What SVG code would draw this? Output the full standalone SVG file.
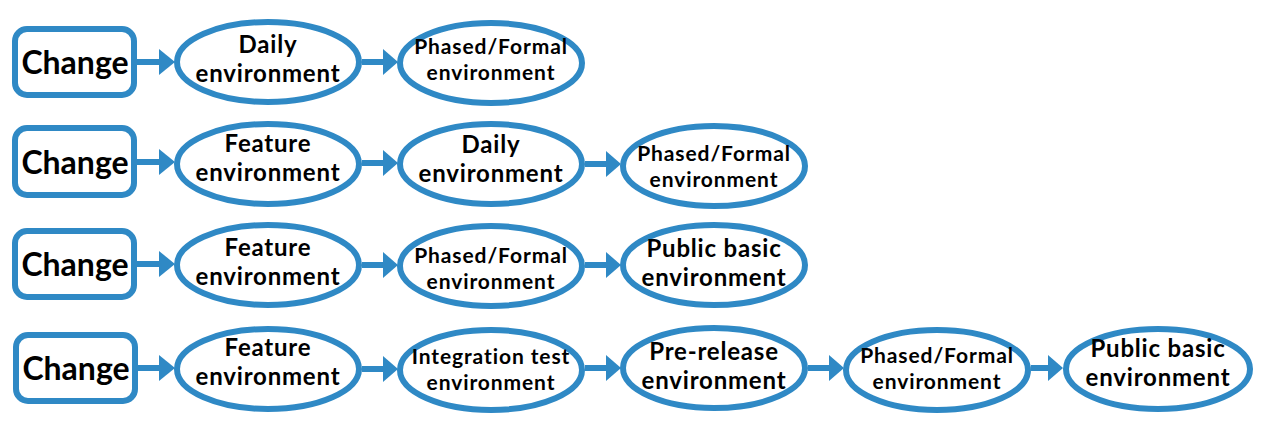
<svg xmlns="http://www.w3.org/2000/svg" width="1268" height="428" viewBox="0 0 1268 428">
  <defs>
    <style>
      .box { fill: #ffffff; stroke: #2f89c5; stroke-width: 6; }
      .env { fill: #ffffff; stroke: #2f89c5; stroke-width: 6; }
      .link { stroke: #2f89c5; stroke-width: 6; fill: none; }
      .head { fill: #2f89c5; }
      text { font-family: "Lato", "Open Sans", sans-serif; font-weight: 700; fill: #000000; text-anchor: middle; }
      .big { font-size: 32px; }
      .lbl { font-size: 24px; letter-spacing: 0.8px; }
      .sm { font-size: 21px; letter-spacing: 0.9px; }
    </style>
  </defs>
  <rect width="1268" height="428" fill="#ffffff"/>

  <!-- connectors -->
  <g id="connectors">
    <!-- row 1 -->
    <line class="link" x1="137" y1="62" x2="162" y2="62"/>
    <polygon class="head" points="159,49 175,62 159,75"/>
    <line class="link" x1="362" y1="62" x2="385" y2="62"/>
    <polygon class="head" points="383,49 398,62 383,75"/>
    <!-- row 2 -->
    <line class="link" x1="137" y1="162" x2="162" y2="162"/>
    <polygon class="head" points="159,149 175,162 159,175"/>
    <line class="link" x1="362" y1="163" x2="385" y2="163"/>
    <polygon class="head" points="383,150 398,163 383,176"/>
    <line class="link" x1="585" y1="164" x2="608" y2="164"/>
    <polygon class="head" points="606,151 621,164 606,177"/>
    <!-- row 3 -->
    <line class="link" x1="137" y1="264" x2="162" y2="264"/>
    <polygon class="head" points="159,251 175,264 159,277"/>
    <line class="link" x1="362" y1="265" x2="385" y2="265"/>
    <polygon class="head" points="383,252 398,265 383,278"/>
    <line class="link" x1="585" y1="265" x2="608" y2="265"/>
    <polygon class="head" points="606,252 621,265 606,278"/>
    <!-- row 4 -->
    <line class="link" x1="138" y1="368" x2="162" y2="368"/>
    <polygon class="head" points="159,355 175,368 159,381"/>
    <line class="link" x1="362" y1="369" x2="385" y2="369"/>
    <polygon class="head" points="383,356 398,369 383,382"/>
    <line class="link" x1="585" y1="368" x2="608" y2="368"/>
    <polygon class="head" points="606,355 621,368 606,381"/>
    <line class="link" x1="808" y1="368" x2="831" y2="368"/>
    <polygon class="head" points="829,355 844,368 829,381"/>
    <line class="link" x1="1031" y1="368" x2="1050" y2="368"/>
    <polygon class="head" points="1048,355 1063,368 1048,381"/>
  </g>

  <!-- row 1 -->
  <g id="r1-change">
    <rect class="box" x="15" y="29" width="119" height="66" rx="12"/>
    <text class="big" x="75" y="74">Change</text>
  </g>
  <g id="r1-daily">
    <ellipse class="env" cx="268" cy="62" rx="91" ry="40"/>
    <text class="lbl" x="268" y="53">Daily</text>
    <text class="lbl" x="268" y="82">environment</text>
  </g>
  <g id="r1-phased">
    <ellipse class="env" cx="491" cy="63" rx="91" ry="40"/>
    <text class="sm" x="491" y="54">Phased/Formal</text>
    <text class="sm" x="491" y="80">environment</text>
  </g>

  <!-- row 2 -->
  <g id="r2-change">
    <rect class="box" x="15" y="128" width="119" height="67" rx="12"/>
    <text class="big" x="75" y="174">Change</text>
  </g>
  <g id="r2-feature">
    <ellipse class="env" cx="268" cy="164" rx="91" ry="40"/>
    <text class="lbl" x="268" y="152">Feature</text>
    <text class="lbl" x="268" y="181">environment</text>
  </g>
  <g id="r2-daily">
    <ellipse class="env" cx="491" cy="164" rx="91" ry="40"/>
    <text class="lbl" x="491" y="153">Daily</text>
    <text class="lbl" x="491" y="182">environment</text>
  </g>
  <g id="r2-phased">
    <ellipse class="env" cx="714" cy="166" rx="91" ry="40"/>
    <text class="sm" x="714" y="161">Phased/Formal</text>
    <text class="sm" x="714" y="187">environment</text>
  </g>

  <!-- row 3 -->
  <g id="r3-change">
    <rect class="box" x="15" y="231" width="119" height="66" rx="12"/>
    <text class="big" x="75" y="276">Change</text>
  </g>
  <g id="r3-feature">
    <ellipse class="env" cx="268" cy="265" rx="91" ry="40"/>
    <text class="lbl" x="268" y="256">Feature</text>
    <text class="lbl" x="268" y="285">environment</text>
  </g>
  <g id="r3-phased">
    <ellipse class="env" cx="491" cy="266" rx="91" ry="40"/>
    <text class="sm" x="491" y="263">Phased/Formal</text>
    <text class="sm" x="491" y="289">environment</text>
  </g>
  <g id="r3-public">
    <ellipse class="env" cx="714" cy="265" rx="91" ry="40"/>
    <text class="lbl" x="714" y="257">Public basic</text>
    <text class="lbl" x="714" y="286">environment</text>
  </g>

  <!-- row 4 -->
  <g id="r4-change">
    <rect class="box" x="16" y="335" width="119" height="66" rx="12"/>
    <text class="big" x="76" y="380">Change</text>
  </g>
  <g id="r4-feature">
    <ellipse class="env" cx="268" cy="369" rx="91" ry="40"/>
    <text class="lbl" x="268" y="356">Feature</text>
    <text class="lbl" x="268" y="385">environment</text>
  </g>
  <g id="r4-integration">
    <ellipse class="env" cx="491" cy="370" rx="91" ry="40"/>
    <text class="sm" x="491" y="364">Integration test</text>
    <text class="sm" x="491" y="390">environment</text>
  </g>
  <g id="r4-prerelease">
    <ellipse class="env" cx="714" cy="368" rx="91" ry="40"/>
    <text class="lbl" x="714" y="360">Pre-release</text>
    <text class="lbl" x="714" y="389">environment</text>
  </g>
  <g id="r4-phased">
    <ellipse class="env" cx="937" cy="370" rx="91" ry="40"/>
    <text class="sm" x="937" y="363">Phased/Formal</text>
    <text class="sm" x="937" y="389">environment</text>
  </g>
  <g id="r4-public">
    <ellipse class="env" cx="1158" cy="369" rx="92" ry="40"/>
    <text class="lbl" x="1158" y="357">Public basic</text>
    <text class="lbl" x="1158" y="386">environment</text>
  </g>
</svg>
